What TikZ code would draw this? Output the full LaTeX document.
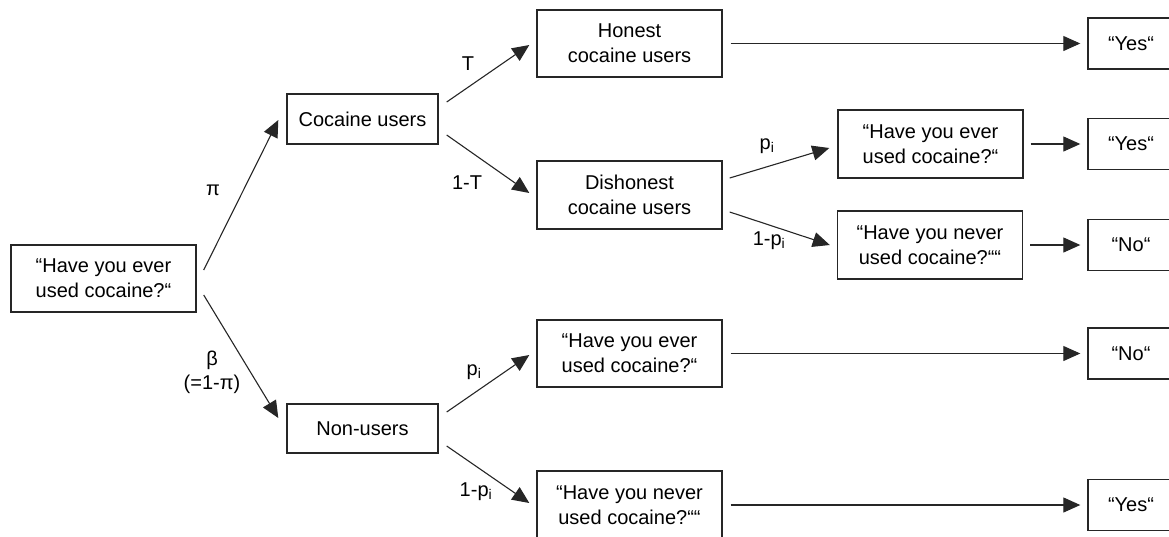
\documentclass[tikz,border=0pt]{standalone}
\usepackage{fontspec}
\setmainfont{Liberation Sans}
\usetikzlibrary{arrows.meta}
\begin{document}
\begin{tikzpicture}[x=1pt,y=-1pt,
  box/.style={draw=black!85, line width=1.4pt, inner sep=0pt, align=center,
              font=\fontsize{20}{25}\selectfont},
  qbox/.style={box, minimum width=185pt, minimum height=68pt},
  ubox/.style={box, minimum width=151pt, minimum height=50pt},
  abox/.style={box, minimum width=86pt, minimum height=51pt},
  arr/.style={-{Triangle[length=17pt,width=15pt]}, line width=1.1pt, draw=black!85},
  lbl/.style={font=\fontsize{20}{24}\selectfont, inner sep=0pt, align=center}]
\useasboundingbox (0,0) rectangle (1169,536);
\clip (0,0) rectangle (1169,536);

% question put to every respondent
\node[qbox, minimum height=67pt] (root) at (103.5,278.5) {“Have you ever\\used cocaine?“};

% first split: users and non-users
\node[ubox] (cu) at (362.5,119) {Cocaine users};
\node[ubox, minimum height=49pt] (nu) at (362.5,428.5) {Non-users};

% honesty of the users
\node[qbox, minimum height=67pt] (hon) at (629.5,43.5) {Honest\\cocaine users};
\node[qbox] (dis) at (629.5,195) {Dishonest\\cocaine users};

% question versions
\node[qbox] (ev1) at (930.5,144) {“Have you ever\\used cocaine?“};
\node[qbox] (nev1) at (930,245) {“Have you never\\used cocaine?““};
\node[qbox, minimum height=67pt] (ev2) at (629.5,353.5) {“Have you ever\\used cocaine?“};
\node[qbox] (nev2) at (629.5,505) {“Have you never\\used cocaine?““};

% answers
\node[abox] (yes1) at (1131,43.5) {“Yes“};
\node[abox] (yes2) at (1131,144) {“Yes“};
\node[abox] (no1) at (1131,245) {“No“};
\node[abox] (no2) at (1131,353.5) {“No“};
\node[abox] (yes3) at (1131,505) {“Yes“};

% branches
\draw[arr] ([shift={(7,-8.5)}]root.east) -- ([shift={(-8,1)}]cu.west);
\draw[arr] ([shift={(7,16.5)}]root.east) -- ([shift={(-8,-10.5)}]nu.west);
\draw[arr] ([shift={(8,-17)}]cu.east) -- ([shift={(-7,1.5)}]hon.west);
\draw[arr] ([shift={(8,16)}]cu.east) -- ([shift={(-7,-2)}]dis.west);
\draw[arr] ([shift={(7,-17)}]dis.east) -- ([shift={(-8,4)}]ev1.west);
\draw[arr] ([shift={(7,17)}]dis.east) -- ([shift={(-7,0)}]nev1.west);
\draw[arr] ([shift={(8,-16.5)}]nu.east) -- ([shift={(-7,1.5)}]ev2.west);
\draw[arr] ([shift={(8,17.5)}]nu.east) -- ([shift={(-7,-2)}]nev2.west);

% answer arrows
\draw[arr] ([xshift=8pt]hon.east) -- ([xshift=-7pt]yes1.west);
\draw[arr] ([xshift=7pt]ev1.east) -- ([xshift=-7pt]yes2.west);
\draw[arr] ([xshift=7pt]nev1.east) -- ([xshift=-7pt]no1.west);
\draw[arr] ([xshift=8pt]ev2.east) -- ([xshift=-7pt]no2.west);
\draw[arr] ([xshift=8pt]nev2.east) -- ([xshift=-7pt]yes3.west);

% branch probabilities
\node[lbl] (lpi) at (213,190) {π};
\node[lbl] (lbeta) at (212,372) {β\\(=1-π)};
\node[lbl] (lT) at (468,64) {T};
\node[lbl] (l1T) at (467,183) {1-T};
\node[lbl] (lp1) at (767,146) {p\textsubscript{i}};
\node[lbl] (l1p1) at (769,241) {1-p\textsubscript{i}};
\node[lbl] (lp2) at (474,372) {p\textsubscript{i}};
\node[lbl] (l1p2) at (476,492) {1-p\textsubscript{i}};
\end{tikzpicture}
\end{document}
